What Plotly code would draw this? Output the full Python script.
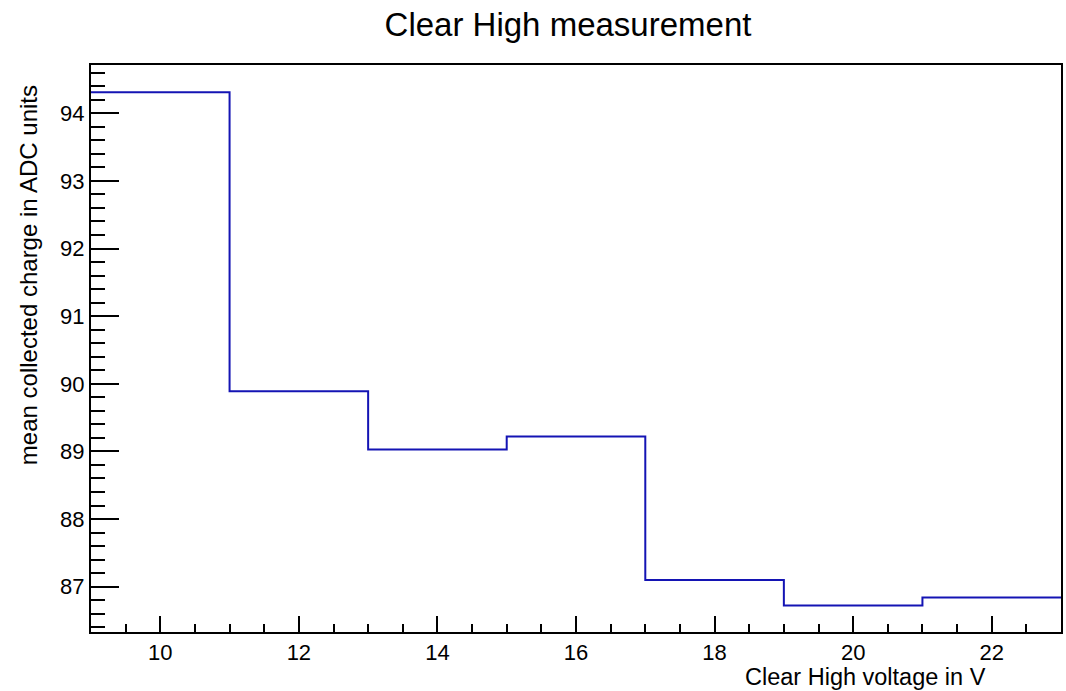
import plotly.graph_objects as go

bin_edges = [9, 11, 13, 15, 17, 19, 21, 23]
mean_charge = [94.31, 89.89, 89.03, 89.22, 87.10, 86.72, 86.84]
x_ticks = [10, 12, 14, 16, 18, 20, 22]
y_ticks = [87, 88, 89, 90, 91, 92, 93, 94]

xs = list(bin_edges)
ys = list(mean_charge) + [mean_charge[-1]]

FONT = "Liberation Sans, Arial, sans-serif"

fig = go.Figure()
fig.add_trace(go.Scatter(
    x=xs, y=ys, mode="lines", line=dict(shape="hv", color="#1414b4", width=2),
    showlegend=False, hoverinfo="skip"
))

fig.update_layout(
    width=1066, height=691,
    margin=dict(l=91, r=3, t=65, b=59),
    paper_bgcolor="white", plot_bgcolor="white",
    font=dict(family=FONT, color="black"),
    title=dict(text="Clear High measurement", x=568 / 1066, xref="container", xanchor="center",
               y=1 - 24 / 691, yref="container", yanchor="middle",
               font=dict(size=33, family=FONT, color="black")),
    xaxis=dict(range=[9, 23], tickvals=x_ticks, ticks="inside", ticklen=16, tickwidth=2,
               tickcolor="black", showline=True, linecolor="black", linewidth=2, mirror=True,
               showgrid=False, zeroline=False, tickfont=dict(size=22, family=FONT),
               minor=dict(dtick=0.5, ticks="inside", ticklen=8, tickwidth=2, tickcolor="black",
                          showgrid=False)),
    yaxis=dict(range=[86.33, 94.714], tickvals=y_ticks, ticks="inside", ticklen=28, tickwidth=2,
               tickcolor="black", showline=True, linecolor="black", linewidth=2, mirror=True,
               showgrid=False, zeroline=False, tickfont=dict(size=22, family=FONT),
               minor=dict(dtick=0.2, tick0=87, ticks="inside", ticklen=14, tickwidth=2,
                          tickcolor="black", showgrid=False)),
    annotations=[
        dict(text="mean collected charge in ADC units", xref="paper", yref="paper",
             x=-0.0648, y=0.6296, xanchor="center", yanchor="middle", textangle=-90,
             showarrow=False, font=dict(size=24, family=FONT, color="black")),
        dict(text="Clear High voltage in V", xref="paper", yref="paper",
             x=0.925, y=-0.0794, xanchor="right", yanchor="middle",
             showarrow=False, font=dict(size=23.5, family=FONT, color="black")),
    ],
)

fig.write_html("out.html")
